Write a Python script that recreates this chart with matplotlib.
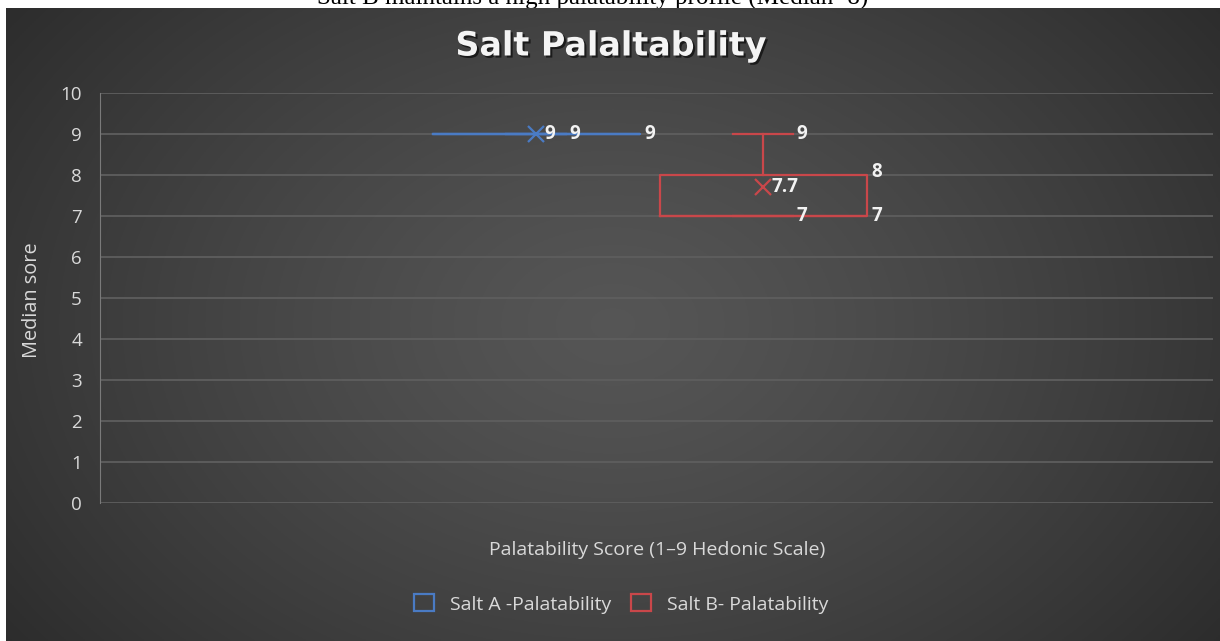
import matplotlib
matplotlib.use('Agg')
import matplotlib.pyplot as plt
import numpy as np
from matplotlib import patheffects as pe
from matplotlib.patches import Patch

# box plot summary values
series = ['Salt A -Palatability', 'Salt B- Palatability']
mins = [9, 7]
q1s = [9, 7]
medians = [9, 7]
q3s = [9, 8]
maxs = [9, 9]
means = [9, 7.7]
yticks = [0, 1, 2, 3, 4, 5, 6, 7, 8, 9, 10]
colors = ['#4a7bc4', '#c9474a']

W, H = 1220, 641
fig = plt.figure(figsize=(W / 100, H / 100), dpi=100)

# caption above the chart (cut off at the top in the source image)
fig.text(593 / W, 1 - 5 / H, 'Salt B maintains a high palatability profile (Median=8)',
         family='Liberation Serif', fontsize=18, ha='center', va='baseline',
         color='black', zorder=-5)

# dark radial background like the office chart style
bg = fig.add_axes([6 / W, 0, 1 - 6 / W, 1 - 8 / H], zorder=-1)
yy, xx = np.mgrid[0:1:300j, 0:1:600j]
r = np.sqrt(((xx - 0.5) / 0.62) ** 2 + ((yy - 0.5) / 0.85) ** 2)
shade = np.clip(0.335 - 0.16 * r ** 1.3, 0.16, 0.34)
bg.imshow(np.dstack([shade] * 3), aspect='auto', extent=[0, 1, 0, 1])
bg.set_axis_off()

ax = fig.add_axes([100 / W, 1 - 503 / H, 1113 / W, 410 / H])
ax.patch.set_alpha(0)
ax.set_xlim(0, 1)
ax.set_ylim(0, 10)
ax.set_yticks(yticks)
ax.set_xticks([])
ax.grid(axis='y', color='#5e5e5e', lw=1.3)
ax.set_axisbelow(True)
for s in ['top', 'right', 'bottom']:
    ax.spines[s].set_visible(False)
ax.spines['left'].set_color('#7a7a7a')
ax.tick_params(axis='y', length=0, pad=13, labelcolor='#d9d9d9', labelsize=13.5)
for lab in ax.get_yticklabels():
    lab.set_family('Open Sans')

centers = [0.392, 0.596]
width = 0.186
capw = width * 0.29

for i in range(len(series)):
    st = dict(med=medians[i], q1=q1s[i], q3=q3s[i], whislo=mins[i], whishi=maxs[i],
              mean=means[i], fliers=[])
    c = colors[i]
    ax.bxp([st], positions=[centers[i]], widths=width, capwidths=capw, showmeans=True,
           manage_ticks=False,
           boxprops=dict(color=c, lw=1.6), whiskerprops=dict(color=c, lw=1.6),
           capprops=dict(color=c, lw=1.6), medianprops=dict(color=c, lw=1.6),
           meanprops=dict(marker='x', markeredgecolor=c, markersize=11, markeredgewidth=1.6))

    # data labels, placed to the right like excel does
    labs = [(centers[i], means[i], 6, f'{means[i]:g}'),
            (centers[i] + capw / 2, maxs[i], 2, f'{maxs[i]:g}'),
            (centers[i] + capw / 2, mins[i], 2, f'{mins[i]:g}'),
            (centers[i] + width / 2, q3s[i], 3, f'{q3s[i]:g}'),
            (centers[i] + width / 2, q1s[i], 3, f'{q1s[i]:g}')]
    seen = set()
    for x, y, dx, t in labs:
        if (x, y) in seen:
            continue
        seen.add((x, y))
        dy = 2 if (x == centers[i] + width / 2 and y == q3s[i] and q3s[i] != q1s[i]) else 0
        ax.annotate(t, (x, y), xytext=(dx, dy), textcoords='offset points', ha='left',
                    va='center', fontsize=13.5, fontweight='bold', color='#f2f2f2',
                    family='Open Sans')

fig.text(611 / W, 1 - 46 / H, 'Salt Palaltability', ha='center', va='center',
         fontsize=24, fontweight='bold', color='#f4f4f4', family='DejaVu Sans',
         path_effects=[pe.withSimplePatchShadow(offset=(1.5, -1.5), shadow_rgbFace='black', alpha=0.6)])

fig.text(657 / W, 1 - 550 / H, 'Palatability Score (1–9 Hedonic Scale)', ha='center',
         va='center', fontsize=14, color='#d9d9d9', family='Open Sans')
fig.text(32 / W, 1 - 300 / H, 'Median sore', ha='center', va='center', rotation=90,
         fontsize=14.3, color='#d9d9d9', family='Open Sans')

handles = [Patch(facecolor='none', edgecolor=c, lw=1.6) for c in colors]
leg = fig.legend(handles, series, loc='center', bbox_to_anchor=(621 / W, 1 - 604 / H),
                 ncol=2, frameon=False, labelcolor='#d9d9d9',
                 handlelength=1.05, handleheight=0.95, handletextpad=0.8, columnspacing=1.0,
                 prop={'family': 'Open Sans', 'size': 14})

fig.savefig('out.png', dpi=100)
